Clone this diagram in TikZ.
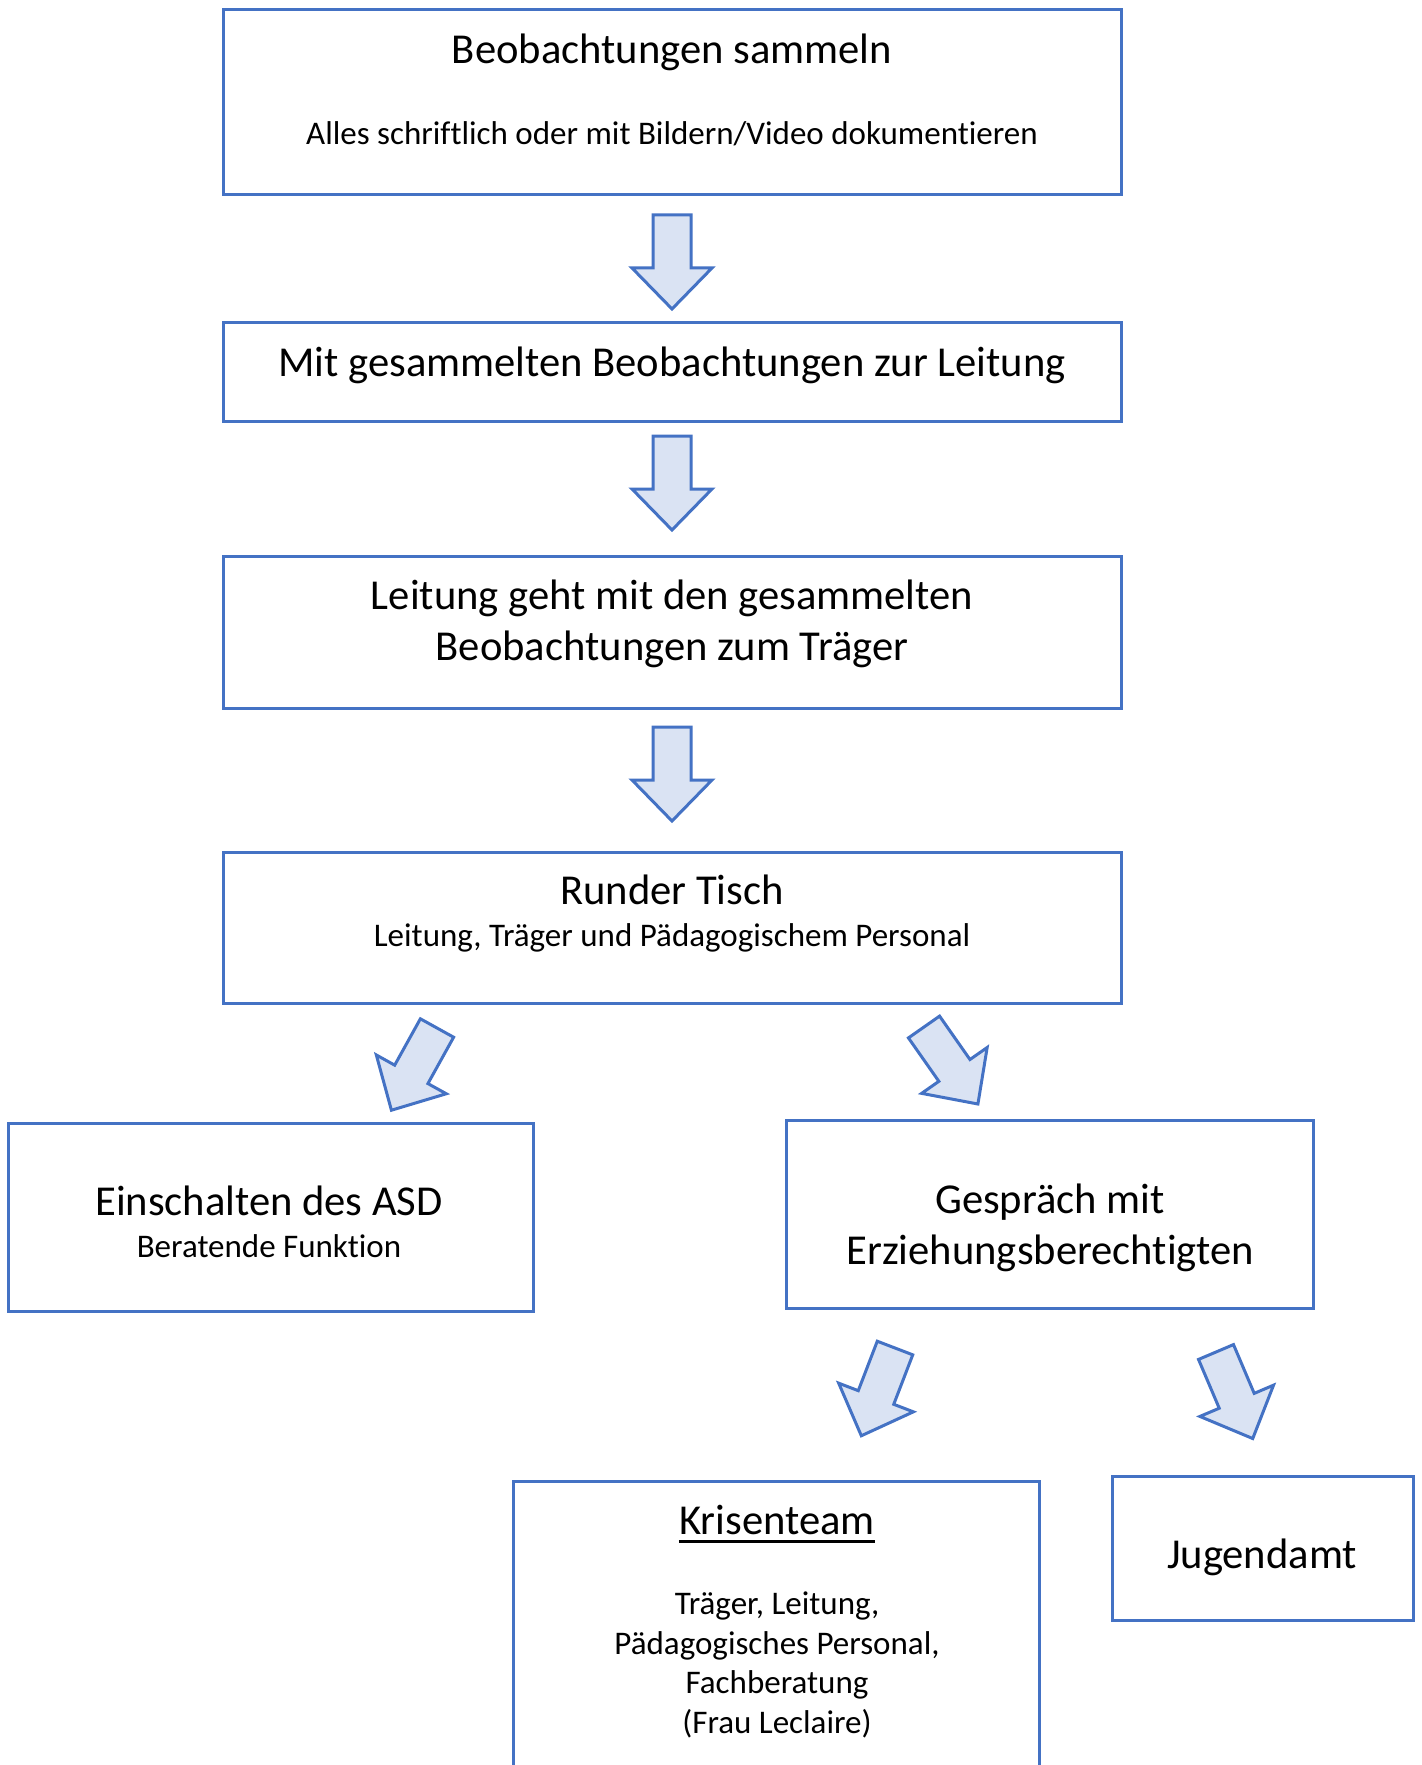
\documentclass[tikz,border=0pt]{standalone}
\usepackage{fontspec}
\setmainfont[Ligatures=NoCommon]{Carlito}
\definecolor{boxblue}{HTML}{4472C4}
\definecolor{arrowfill}{HTML}{DAE3F3}
\tikzset{
  flowbox/.style={draw=boxblue, line width=1.5pt, rectangle, inner sep=0pt},
  bigtext/.style={font=\fontsize{21.3}{25.5}\selectfont, align=center, inner sep=0pt},
  smalltext/.style={font=\fontsize{16.5}{19.7}\selectfont, align=center, inner sep=0pt},
  pics/blockarrow/.style={code={
    \draw[draw=boxblue, fill=arrowfill, line width=1.5pt]
      (-9.5,0) -- (9.5,0) -- (9.5,26.5) -- (20,26.5) -- (0,47) -- (-20,26.5) -- (-9.5,26.5) -- cycle;
  }}
}
\begin{document}
\begin{tikzpicture}[x=1pt, y=-1pt]
  \useasboundingbox (0,0) rectangle (710.5,882.5);

  % boxes
  \node[flowbox, minimum width=449pt, minimum height=92.5pt] (sammeln) at (336,51.25) {};
  \node[flowbox, minimum width=449pt, minimum height=49pt] (leitung) at (336,186) {};
  \node[flowbox, minimum width=449pt, minimum height=76pt] (traeger) at (336,316) {};
  \node[flowbox, minimum width=449pt, minimum height=75.5pt] (tisch) at (336,463.75) {};
  \node[flowbox, minimum width=262.5pt, minimum height=94pt] (asd) at (135.25,608.5) {};
  \node[flowbox, minimum width=263.5pt, minimum height=94pt] (gespraech) at (524.75,607) {};
  \node[flowbox, minimum width=263pt, minimum height=170pt, anchor=north] (krise) at (388,740) {};
  \node[flowbox, minimum width=150.5pt, minimum height=72pt] (jugend) at (631.25,774) {};

  % texts
  \node[bigtext] (sammelnT) at (336,26) {Beobachtungen sammeln};
  \node[smalltext] (sammelnS) at (336,67) {Alles schriftlich oder mit Bildern/Video dokumentieren};
  \node[bigtext] (leitungT) at (336,182.5) {Mit gesammelten Beobachtungen zur Leitung};
  \node[bigtext] (traegerT) at (336,311.75) {Leitung geht mit den gesammelten\\Beobachtungen zum Träger};
  \node[bigtext] (tischT) at (336,445) {Runder Tisch};
  \node[smalltext] (tischS) at (336,469) {Leitung, Träger und Pädagogischem Personal};
  \node[bigtext] (asdT) at (134.5,600.5) {Einschalten des ASD};
  \node[smalltext] (asdS) at (134.5,623) {Beratende Funktion};
  \node[bigtext] (gespraechT) at (525,613.75) {Gespräch mit\\Erziehungsberechtigten};
  \node[bigtext] (kriseT) at (388.5,760) {Krisenteam};
  \draw[line width=1.4pt] ([yshift=-3pt]kriseT.south west) -- ([yshift=-3pt]kriseT.south east);
  \node[smalltext] (kriseS) at (388.5,832.5) {Träger, Leitung,\\Pädagogisches Personal,\\Fachberatung\\(Frau Leclaire)};
  \node[bigtext] (jugendT) at (631,778.5) {Jugendamt};

  % block arrows
  \pic at (336,107.5) {blockarrow};
  \pic at (336,218) {blockarrow};
  \pic at (336,363.5) {blockarrow};
  \pic[rotate=-29] at (218.5,514) {blockarrow};
  \pic[rotate=35] at (462,513.5) {blockarrow};
  \pic[rotate=-21] at (447.5,674) {blockarrow};
  \pic[rotate=23] at (608,676) {blockarrow};
\end{tikzpicture}
\end{document}
